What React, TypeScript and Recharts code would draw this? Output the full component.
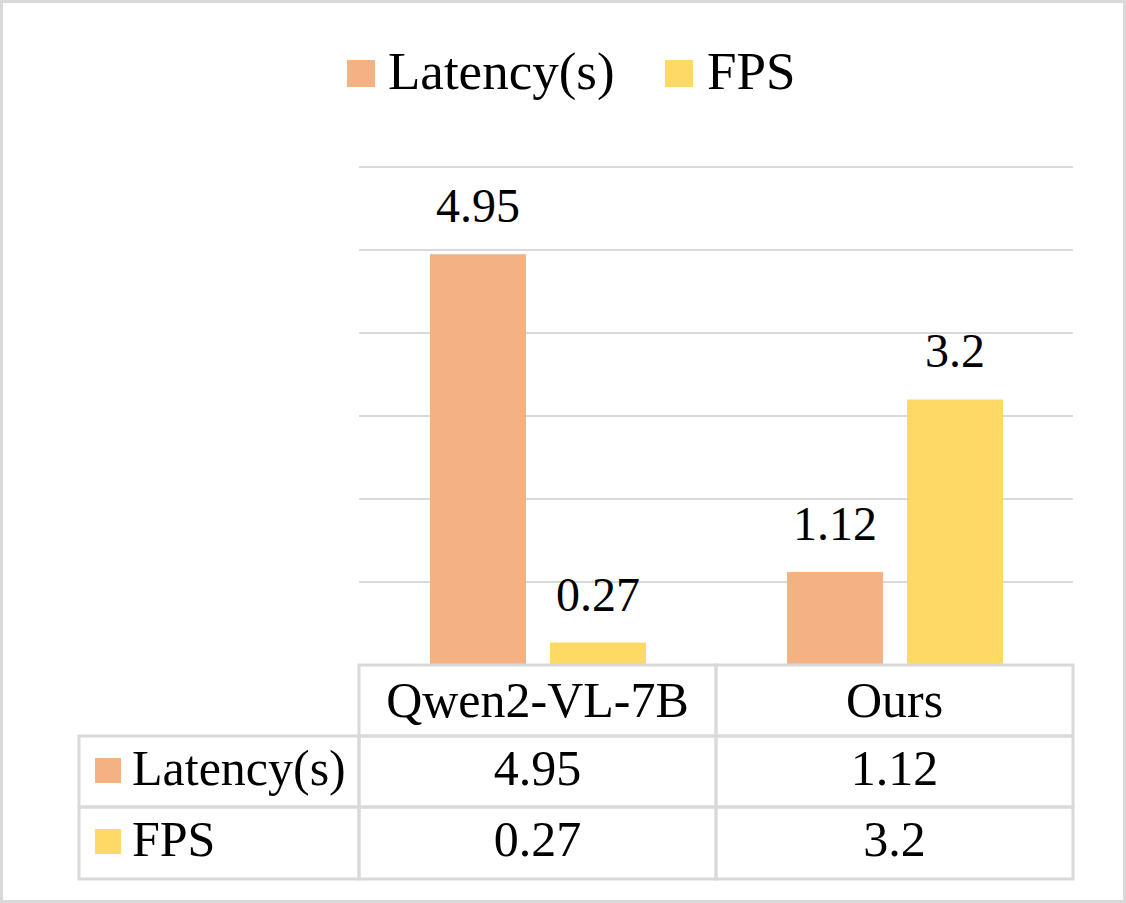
import React from 'react';
import { BarChart, Bar, XAxis, YAxis, CartesianGrid, Legend, LabelList } from 'recharts';

const categories = ['Qwen2-VL-7B', 'Ours'];
const latency = [4.95, 1.12];
const fps = [0.27, 3.2];
const seriesNames = ['Latency(s)', 'FPS'];
const seriesColors = ['#F4B183', '#FFD966'];
const yTicks = [0, 1, 2, 3, 4, 5, 6];

const data = categories.map((name, i) => ({ name, latency: latency[i], fps: fps[i] }));
const seriesValues = [latency, fps];

const FONT = "'Times New Roman', 'Liberation Serif', serif";
const GRID = '#d9d9d9';

// table geometry (chart layout, not data)
const TABLE_TOP = 665;
const ROW_BOTTOMS = [736, 807, 879];
const HEADER_LEFT = 79;
const PLOT_LEFT = 359;
const BAND = 357;

const TableTick = (props: any) => {
  const { x, index } = props;
  const left = x - BAND / 2;
  const rows = [TABLE_TOP, ...ROW_BOTTOMS];
  return (
    <g>
      {index === 0 && (
        <g>
          {seriesNames.map((s, r) => (
            <g key={s}>
              <rect
                x={HEADER_LEFT}
                y={rows[r + 1]}
                width={PLOT_LEFT - HEADER_LEFT}
                height={rows[r + 2] - rows[r + 1]}
                fill="none"
                stroke={GRID}
                strokeWidth={3}
              />
              <rect x={95} y={rows[r + 1] + 22} width={26} height={25} fill={seriesColors[r]} />
              <text x={132} y={rows[r + 1] + 49} fontSize={50} fontFamily={FONT} fill="#000">
                {s}
              </text>
            </g>
          ))}
        </g>
      )}
      <rect x={left} y={rows[0]} width={BAND} height={rows[1] - rows[0]} fill="none" stroke={GRID} strokeWidth={3} />
      <text x={x} y={rows[0] + 52} textAnchor="middle" fontSize={50} fontFamily={FONT} fill="#000">
        {categories[index]}
      </text>
      {seriesValues.map((vals, r) => (
        <g key={r}>
          <rect
            x={left}
            y={rows[r + 1]}
            width={BAND}
            height={rows[r + 2] - rows[r + 1]}
            fill="none"
            stroke={GRID}
            strokeWidth={3}
          />
          <text x={x} y={rows[r + 1] + 49} textAnchor="middle" fontSize={50} fontFamily={FONT} fill="#000">
            {String(vals[index])}
          </text>
        </g>
      ))}
    </g>
  );
};

const TopLegend = () => (
  <svg width={1126} height={110} style={{ display: 'block' }}>
    <rect x={347} y={60} width={28} height={27} fill={seriesColors[0]} />
    <text x={388} y={89} fontSize={53} fontFamily={FONT} fill="#000">
      {seriesNames[0]}
    </text>
    <rect x={665} y={60} width={28} height={27} fill={seriesColors[1]} />
    <text x={707} y={89} fontSize={53} fontFamily={FONT} fill="#000">
      {seriesNames[1]}
    </text>
  </svg>
);

const renderLabel = (p: any) => (
  <text
    x={p.x + p.width / 2}
    y={p.y - 32}
    textAnchor="middle"
    fontSize={48}
    fontFamily={FONT}
    fill="#000"
  >
    {String(p.value)}
  </text>
);

export default function App() {
  return (
    <div
      style={{
        position: 'absolute',
        left: 0,
        top: 0,
        width: 1126,
        height: 903,
        boxSizing: 'border-box',
        border: `3px solid ${GRID}`,
        background: '#fff',
      }}
    >
      <div style={{ position: 'absolute', left: -3, top: -3 }}>
        <BarChart
          width={1126}
          height={903}
          data={data}
          margin={{ top: 167, right: 53, bottom: 0, left: PLOT_LEFT }}
          barSize={96}
          barGap={24}
        >
          <CartesianGrid vertical={false} stroke={GRID} strokeWidth={2} />
          <YAxis hide domain={[0, 6]} ticks={yTicks} />
          <XAxis
            dataKey="name"
            height={238}
            axisLine={false}
            tickLine={false}
            interval={0}
            tick={(p: any) => <TableTick {...p} />}
          />
          <Legend
            layout="vertical"
            align="center"
            verticalAlign="middle"
            wrapperStyle={{ top: 0, left: 0, width: 1126 }}
            content={() => <TopLegend />}
          />
          <Bar dataKey="latency" name={seriesNames[0]} fill={seriesColors[0]} isAnimationActive={false}>
            <LabelList dataKey="latency" content={renderLabel} />
          </Bar>
          <Bar dataKey="fps" name={seriesNames[1]} fill={seriesColors[1]} isAnimationActive={false}>
            <LabelList dataKey="fps" content={renderLabel} />
          </Bar>
        </BarChart>
      </div>
    </div>
  );
}
